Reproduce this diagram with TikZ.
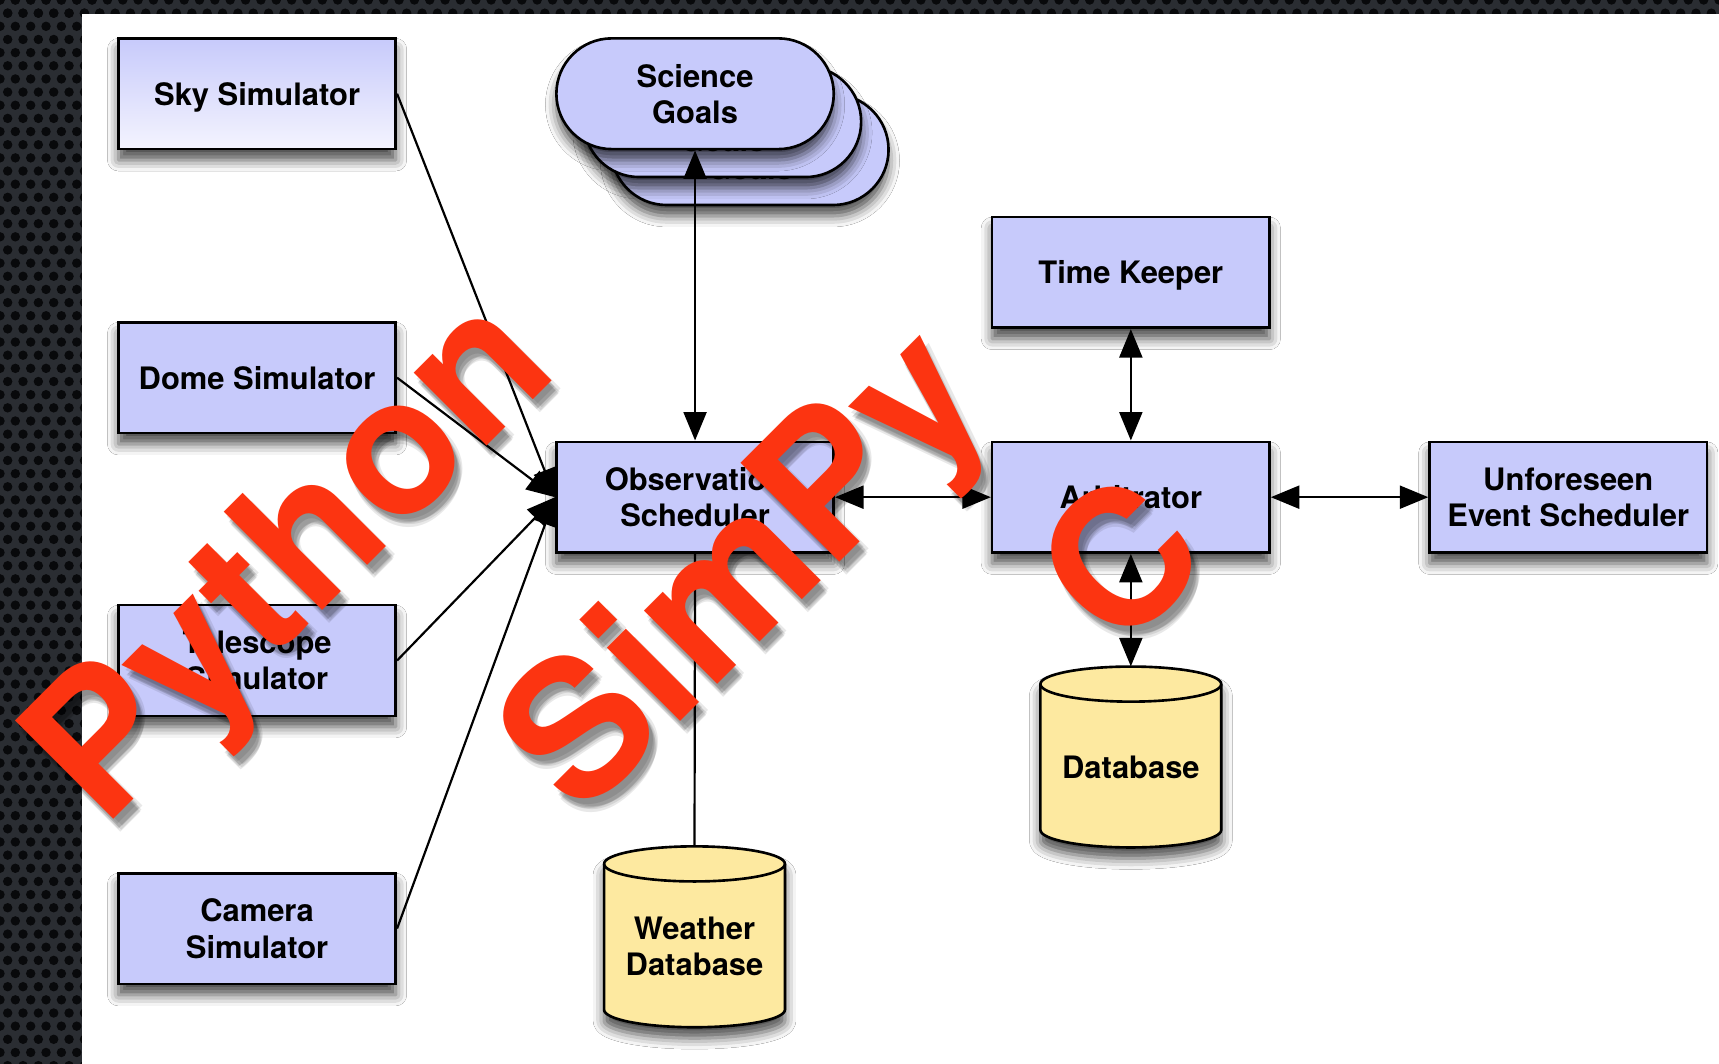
\documentclass[tikz,border=0pt]{standalone}
\usepackage{fontspec}
\setmainfont{TeX Gyre Heros}
\usetikzlibrary{arrows.meta,shadows.blur,shapes.misc,calc}

\definecolor{metal}{RGB}{42,45,50}
\definecolor{hole}{RGB}{8,9,11}
\definecolor{lav}{RGB}{199,202,251}
\definecolor{lavlight}{RGB}{244,244,254}
\definecolor{dbyellow}{RGB}{253,233,160}
\definecolor{stamp}{RGB}{252,52,17}

\tikzset{
  dropshadow/.style={blur shadow={shadow xshift=0pt,shadow yshift=-10pt,
      shadow blur radius=10pt,shadow opacity=70}},
  block/.style={draw=black,line width=2.4pt,fill=lav,minimum width=253pt,
      minimum height=101pt,inner sep=0pt,align=center,text depth=0pt,
      font=\fontsize{28.2}{33}\selectfont\bfseries,dropshadow},
  goal/.style={block,rounded rectangle},
  dbbody/.style={draw=black,line width=2.4pt,fill=dbyellow,dropshadow},
  dblabel/.style={inner sep=0pt,minimum width=165pt,align=center,text depth=0pt,
      font=\fontsize{28.2}{33}\selectfont\bfseries},
  head/.tip={Triangle[length=26pt,width=21pt,color=black,fill=black]},
  link/.style={line width=2pt,draw=black},
  arr/.style={link,-head},
  darr/.style={link,head-head},
  stampword/.style={inner sep=0pt,rotate=45,text=stamp,font=#1},
  stampshade/.style={inner sep=0pt,rotate=45,text=black,opacity=0.09,font=#1},
}

% database drum: centre x, top-ellipse centre y, bottom-arc centre y
\newcommand{\drum}[3]{%
  \path[dbbody] (#1-82.5,#2) -- (#1-82.5,#3)
     arc[start angle=180,end angle=360,x radius=82.5,y radius=16]
     -- (#1+82.5,#2)
     arc[start angle=0,end angle=180,x radius=82.5,y radius=16] -- cycle;
  \draw[line width=2.4pt] (#1-82.5,#2)
     arc[start angle=180,end angle=360,x radius=82.5,y radius=16];
}

\begin{document}
\begin{tikzpicture}[x=1pt,y=1pt]
\useasboundingbox (0,0) rectangle (1568,-970);

% perforated metal frame
\fill[metal] (-6,6) rectangle (1574,-976);
\foreach \r in {0,...,81}{
  \foreach \c in {0,...,6}{
    \fill[hole] ({\c*14+mod(\r,2)*7},{-\r*12}) circle (4.3);
  }
}
\foreach \r in {0,1}{
  \foreach \c in {0,...,112}{
    \fill[hole] ({\c*14+mod(\r,2)*7},{-\r*12}) circle (4.3);
  }
}
\fill[white] (75,-13) rectangle (1574,-976);

% simulators
\node[block,fill=none,top color=lav,bottom color=lavlight] (sky) at (234.5,-85.5) {Sky Simulator};
\node[block] (dome) at (234.5,-344.5) {Dome Simulator};
\node[block] (tele) at (234.5,-602.5) {Telescope\\Simulator};
\node[block] (cam) at (234.5,-847) {Camera\\Simulator};

% science goals stack
\node[goal] (goals3) at (684,-136.5) {Science\\Goals};
\node[goal] (goals2) at (659,-111) {Science\\Goals};
\node[goal] (goals) at (634,-85.5) {Science\\Goals};

% scheduling core
\node[block] (obs) at (634,-453.5) {Observation\\Scheduler};
\node[block] (tk) at (1031.5,-248.5) {Time Keeper};
\node[block] (arb) at (1031.5,-453.5) {Arbitrator};
\node[block] (ues) at (1430.5,-453.5) {Unforeseen\\Event Scheduler};

% databases (label boxes reach up to the drum tops)
\drum{1031.5}{-624}{-757}
\node[dblabel,minimum height=184pt] (db) at (1031.5,-700) {Database};
\drum{633.5}{-788}{-921}
\node[dblabel,minimum height=182pt] (wdb) at (633.5,-863) {Weather\\Database};

% connectors
\draw[arr] (sky.east) -- (obs.west);
\draw[arr] (dome.east) -- (obs.west);
\draw[arr] (tele.east) -- (obs.west);
\draw[arr] (cam.east) -- (obs.west);
\draw[darr] (goals.south) -- (obs.north);
\draw[link] (wdb.north) -- (obs.south);
\draw[darr] (obs.east) -- (arb.west);
\draw[darr] (tk.south) -- (arb.north);
\draw[darr] (arb.east) -- (ues.west);
\draw[darr] (arb.south) -- (db.north);

% language stamps
\foreach \dx/\dy in {3/-5,5/-8,7/-10,4/-9,8/-7,6/-12}{
  \node[stampshade={\fontsize{174}{174}\selectfont\bfseries},anchor=base west]
    at ($(94.5,-756.6)+(\dx,\dy)$) {Python};
  \node[stampshade={\fontsize{175}{175}\selectfont\bfseries},anchor=base west]
    at ($(529.8,-749)+(\dx,\dy)$) {SimPy};
  \node[stampshade={\fontsize{172}{172}\selectfont\bfseries}]
    at ($(1021,-510)+(\dx,\dy)$) {C};
}
\node[stampword={\fontsize{174}{174}\selectfont\bfseries},anchor=base west]
  (python) at (94.5,-756.6) {Python};
\node[stampword={\fontsize{175}{175}\selectfont\bfseries},anchor=base west]
  (simpy) at (529.8,-749) {SimPy};
\node[stampword={\fontsize{172}{172}\selectfont\bfseries}]
  (clang) at (1021,-510) {C};
\end{tikzpicture}
\end{document}
